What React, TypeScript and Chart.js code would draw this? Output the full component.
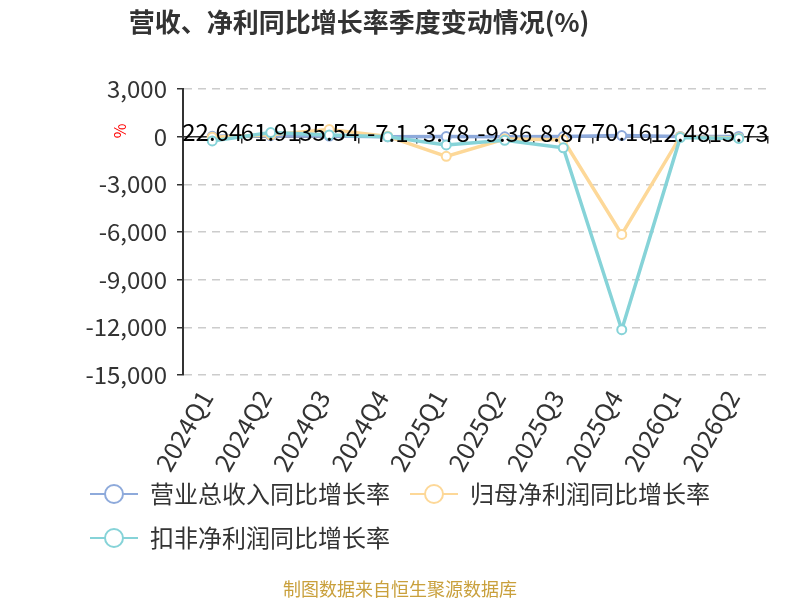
import React, { useEffect, useRef } from 'react';
import { Chart, registerables } from 'chart.js';
import type { Plugin } from 'chart.js';

Chart.register(...registerables);

const quarters = ['2024Q1', '2024Q2', '2024Q3', '2024Q4', '2025Q1', '2025Q2', '2025Q3', '2025Q4', '2026Q1', '2026Q2'];
const revenueYoY = [22.64, 61.91, 35.54, -7.1, 3.78, -9.36, 8.87, 70.16, 12.48, 15.73];
const netProfitYoY = [-30, 120, 450, 20, -1240, -150, -200, -6150, 0, -80];
const deductedProfitYoY = [-270, 260, 110, 0, -520, -230, -700, -12150, -60, -110];
const yTicks = [3000, 0, -3000, -6000, -9000, -12000, -15000];

const FONT = '"Noto Sans CJK SC", "Noto Sans", sans-serif';
const BLUE = '#8eaadb';
const ORANGE = '#fdd898';
const TEAL = '#86d3d8';

// legend icon: short line with a hollow circle in the middle
function legendIcon(color: string): HTMLCanvasElement {
  const c = document.createElement('canvas');
  c.width = 48;
  c.height = 22;
  const ctx = c.getContext('2d')!;
  ctx.strokeStyle = color;
  ctx.lineWidth = 2;
  ctx.beginPath();
  ctx.moveTo(0, 11);
  ctx.lineTo(48, 11);
  ctx.stroke();
  ctx.beginPath();
  ctx.arc(24, 11, 9, 0, Math.PI * 2);
  ctx.fillStyle = '#fff';
  ctx.fill();
  ctx.stroke();
  return c;
}

const extras: Plugin<'line'> = {
  id: 'extras',
  afterDatasetsDraw(chart) {
    const { ctx } = chart;
    const meta = chart.getDatasetMeta(0);
    ctx.save();
    ctx.font = `24px ${FONT}`;
    ctx.fillStyle = '#000';
    ctx.textAlign = 'center';
    ctx.textBaseline = 'middle';
    meta.data.forEach((pt, i) => {
      ctx.fillText(String(revenueYoY[i]), pt.x, pt.y - 4);
    });
    ctx.restore();
  },
  afterDraw(chart) {
    const { ctx } = chart;
    ctx.save();
    ctx.fillStyle = '#333';
    ctx.font = `bold 26px ${FONT}`;
    ctx.textAlign = 'center';
    ctx.textBaseline = 'middle';
    ctx.fillText('营收、净利同比增长率季度变动情况(%)', 359, 22);

    ctx.fillStyle = '#c9a03c';
    ctx.font = `18px ${FONT}`;
    ctx.fillText('制图数据来自恒生聚源数据库', 400, 589);

    ctx.translate(120, 131);
    ctx.rotate(-Math.PI / 2);
    ctx.fillStyle = '#ff0000';
    ctx.font = `16px ${FONT}`;
    ctx.fillText('%', 0, 0);
    ctx.restore();
  },
};

export default function App() {
  const canvasRef = useRef<HTMLCanvasElement>(null);

  useEffect(() => {
    if (!canvasRef.current) return () => { /* nothing */ };
    const icons = [legendIcon(BLUE), legendIcon(ORANGE), legendIcon(TEAL)];

    const chart = new Chart(canvasRef.current, {
      type: 'line',
      data: {
        labels: quarters,
        datasets: [
          {
            label: '营业总收入同比增长率',
            data: revenueYoY,
            borderColor: BLUE,
            order: 2,
          },
          {
            label: '归母净利润同比增长率',
            data: netProfitYoY,
            borderColor: ORANGE,
            order: 1,
          },
          {
            label: '扣非净利润同比增长率',
            data: deductedProfitYoY,
            borderColor: TEAL,
            order: 0,
          },
        ],
      },
      options: {
        responsive: false,
        animation: false,
        layout: { padding: { left: 70, right: 32, top: 89, bottom: 40 } },
        elements: {
          line: { borderWidth: 3.5, tension: 0 },
          point: { radius: 4.5, borderWidth: 2, backgroundColor: '#fff', hoverRadius: 4.5 },
        },
        plugins: {
          tooltip: { enabled: false },
          title: { display: false },
          legend: {
            position: 'bottom',
            align: 'start',
            labels: {
              usePointStyle: true,
              pointStyleWidth: 48,
              padding: 20,
              color: '#333',
              font: { size: 24, family: FONT },
              generateLabels: (c) => c.data.datasets.map((ds, i) => ({
                text: ds.label as string,
                fillStyle: '#fff',
                strokeStyle: ds.borderColor as string,
                lineWidth: 2,
                pointStyle: icons[i],
                datasetIndex: i,
                hidden: false,
                fontColor: '#333',
              })),
            },
          },
        },
        scales: {
          x: {
            type: 'category',
            position: 'bottom',
            offset: true,
            grid: { display: false, drawTicks: false },
            border: { display: false },
            ticks: {
              autoSkip: false,
              minRotation: 60,
              maxRotation: 60,
              padding: 10,
              labelOffset: -6,
              color: '#333',
              font: { size: 25, family: FONT },
            },
            afterFit: (scale) => {
              scale.height = 87;
              // the rotated labels run a little past the axis box, don't clip them
              (scale as any)._computeLabelArea = () => undefined;
            },
          },
          x0: {
            type: 'category',
            position: { y: 0 },
            offset: true,
            ticks: { display: false },
            grid: {
              display: true,
              drawOnChartArea: false,
              drawTicks: true,
              tickLength: 6,
              offset: true,
              color: '#333',
              lineWidth: 1.5,
            },
            border: { display: true, color: '#333', width: 1.5 },
          },
          y: {
            min: -15000,
            max: 3000,
            afterBuildTicks: (scale) => {
              scale.ticks = yTicks.map((v) => ({ value: v }));
            },
            ticks: {
              padding: 10,
              color: '#333',
              font: { size: 24, family: FONT },
              callback: (v) => Number(v).toLocaleString('en-US'),
            },
            grid: {
              color: '#cccccc',
              lineWidth: 1.5,
              tickLength: 6,
              tickColor: '#333',
              tickWidth: 1.5,
            },
            border: { display: true, color: '#333', width: 2, dash: [8, 6] },
            afterFit: (scale) => { scale.width = 113; },
          },
        },
      },
      plugins: [extras],
    });

    return () => {
      chart.destroy();
    };
  }, []);

  return (
    <div style={{ position: 'fixed', left: 0, top: 0, width: 800, height: 600, background: '#fff' }}>
      <canvas ref={canvasRef} width={800} height={600} style={{ display: 'block' }} />
    </div>
  );
}
